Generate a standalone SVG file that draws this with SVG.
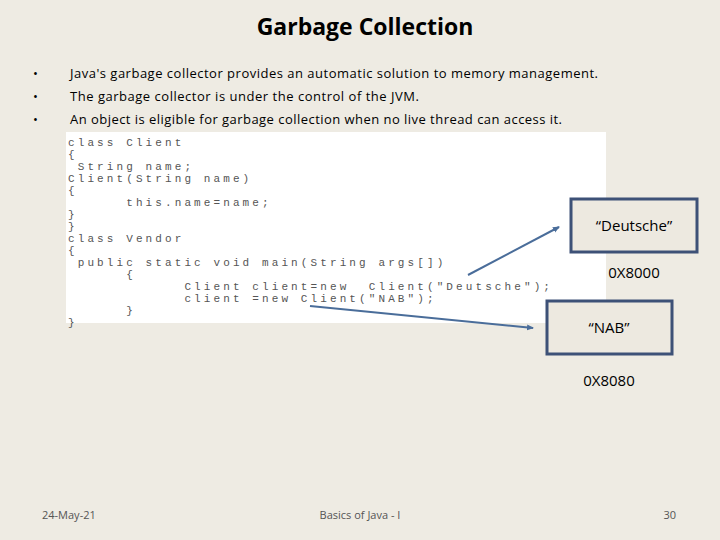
<svg xmlns="http://www.w3.org/2000/svg" width="720" height="540" viewBox="0 0 720 540">
<style>
.t{font-family:"Open Sans","DejaVu Sans",sans-serif;fill:#000}
.c{font-family:"Liberation Mono",monospace;font-size:11px;letter-spacing:3.1px;fill:#555;white-space:pre}
.box{fill:#ede9e0;stroke:#3d5177;stroke-width:3}
.ft{font-family:"Open Sans",sans-serif;font-size:11px;fill:#555}
</style>
<defs><marker id="a" markerWidth="8" markerHeight="8" refX="6" refY="3" orient="auto" markerUnits="userSpaceOnUse"><path d="M0,0L7,3L0,6z" fill="#4a6d9a"/></marker></defs>
<rect width="720" height="540" fill="#eeebe3"/>
<text class="t" x="365" y="35" font-size="23" font-weight="bold" text-anchor="middle">Garbage Collection</text>
<g class="t" font-size="13">
<text x="33" y="78">•</text><text x="70" y="78" textLength="528">Java's garbage collector provides an automatic solution to memory management.</text>
<text x="33" y="101">•</text><text x="70" y="101" textLength="349">The garbage collector is under the control of the JVM.</text>
<text x="33" y="124">•</text><text x="70" y="124" textLength="492">An object is eligible for garbage collection when no live thread can access it.</text>
</g>
<g id="code">
<rect x="66" y="132" width="540" height="191" fill="#fff"/>
<text class="c" xml:space="preserve"><tspan x="68" y="146">class Client</tspan><tspan x="68" y="158">{</tspan><tspan x="68" y="170"> String name;</tspan><tspan x="68" y="182">Client(String name)</tspan><tspan x="68" y="194">{</tspan><tspan x="68" y="206">      this.name=name;</tspan><tspan x="68" y="218">}</tspan><tspan x="68" y="230">}</tspan><tspan x="68" y="242">class Vendor</tspan><tspan x="68" y="254">{</tspan><tspan x="68" y="266"> public static void main(String args[])</tspan><tspan x="68" y="278">      {</tspan><tspan x="68" y="290">            Client client=new  Client("Deutsche");</tspan><tspan x="68" y="302">            client =new Client("NAB");</tspan><tspan x="68" y="314">      }</tspan><tspan x="68" y="326">}</tspan></text>
</g>
<g id="n1"><rect class="box" x="571" y="199" width="126" height="53"/><text class="t" x="634" y="231" font-size="15" text-anchor="middle">“Deutsche”</text><text class="t" x="634" y="278" font-size="15" text-anchor="middle" fill="#333">0X8000</text></g>
<g id="n2"><rect class="box" x="547" y="301" width="125" height="53"/><text class="t" x="609" y="333" font-size="15" text-anchor="middle">“NAB”</text><text class="t" x="609" y="386" font-size="15" text-anchor="middle" fill="#333">0X8080</text></g>
<g id="connectors" stroke="#4a6d9a" stroke-width="2" fill="none">
<line x1="468" y1="275" x2="559" y2="227" marker-end="url(#a)"/>
<line x1="310" y1="306" x2="533" y2="328" marker-end="url(#a)"/>
</g>
<text class="ft" x="42" y="519">24-May-21</text>
<text class="ft" x="360" y="519" text-anchor="middle">Basics  of Java - I</text>
<text class="ft" x="676" y="519" text-anchor="end">30</text>
</svg>
